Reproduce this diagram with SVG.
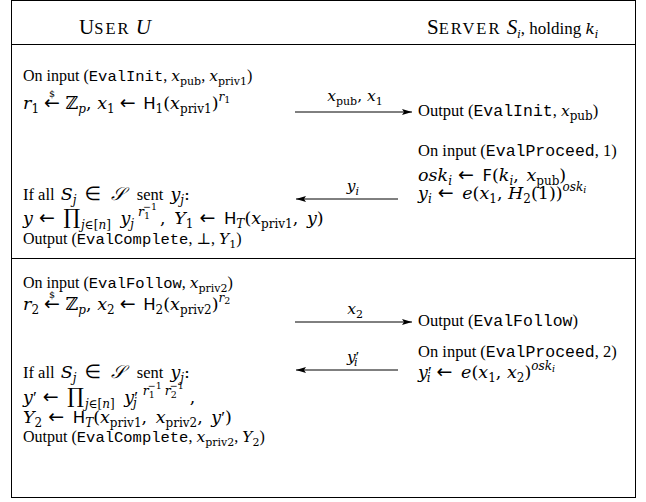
<svg xmlns="http://www.w3.org/2000/svg" width="646" height="502" viewBox="0 0 646 502">
<style>
text{font-family:"Liberation Serif","DejaVu Serif",serif;font-size:16px;fill:#000}
.R{font-size:16.5px}
.M{font-family:"DejaVu Serif",serif;font-size:17.5px}
.N{font-family:"DejaVu Serif",serif;font-size:15.5px}
.t{font-family:"Liberation Serif",serif;font-size:16.5px;font-style:normal}
.i{font-style:italic}
.m{font-family:"Liberation Mono","DejaVu Sans Mono",monospace;font-size:15.5px}
.mr{font-family:"Liberation Mono","DejaVu Sans Mono",monospace;font-size:16.5px}
.sf{font-family:"DejaVu Sans",sans-serif;font-size:16.5px}
.op{font-family:"DejaVu Sans",sans-serif;font-size:19px}
.pr{font-family:"DejaVu Serif",serif;font-size:21px}
.pm{font-family:"Liberation Serif",serif}
.s{font-size:12px}
.sn{font-size:11px}
.ss{font-size:9.5px}
.sp{font-size:12.5px;font-style:italic}
.sq{font-size:9.5px}
.h{font-size:21px}
.hs{font-size:16.5px;letter-spacing:2px}
.frame{fill:none;stroke:#000;stroke-width:1}
.conn line{stroke:#000;stroke-width:1}
</style>
<defs>
<marker id="ah" viewBox="0 0 10 6" refX="10" refY="3" markerWidth="10" markerHeight="6" markerUnits="userSpaceOnUse" orient="auto">
<path d="M0,0 L10,3 L0,6 L2,3 Z" fill="#000"/>
</marker>
</defs>
<rect id="frame" class="frame" x="11.5" y="0.5" width="624" height="497"/>
<line class="frame" x1="11" y1="44.5" x2="636" y2="44.5"/>
<line class="frame" x1="11" y1="258.5" x2="636" y2="258.5"/>

<g id="header-user">
<text x="115" y="34" text-anchor="middle" class="h">U<tspan class="hs">SER</tspan> <tspan class="i">U</tspan></text>
</g>
<g id="header-server">
<text x="427" y="34" class="h">S<tspan class="hs">ERVER</tspan> <tspan class="i">S</tspan><tspan class="N i sn" dy="4">i</tspan><tspan font-size="17" dy="-4">, holding </tspan><tspan class="N i" font-size="17">k</tspan><tspan class="N i sn" dy="4">i</tspan></text>
</g>

<g id="user-phase1">
<text x="23" y="81">On input (<tspan class="m">EvalInit</tspan>, <tspan class="N i">x</tspan><tspan class="N sn" dy="4">pub</tspan><tspan dy="-4">, </tspan><tspan class="N i">x</tspan><tspan class="N sn" dy="4">priv1</tspan><tspan dy="-4">)</tspan></text>
<text x="23" y="109" class="M"><tspan class="i">r</tspan><tspan class="s" dy="4">1</tspan><tspan class="op" dx="5" dy="-4">←</tspan><tspan class="ss" dx="-11" dy="-12">$</tspan><tspan dx="5" dy="12"> </tspan>ℤ<tspan class="i s" dy="4">p</tspan><tspan dy="-4">, </tspan><tspan class="i">x</tspan><tspan class="s" dy="4">1</tspan><tspan class="op" dx="5" dy="-4">←</tspan><tspan dx="2"> </tspan><tspan class="sf">H</tspan><tspan class="s" dy="4">1</tspan><tspan dy="-4">(</tspan><tspan class="i">x</tspan><tspan class="s" dy="4">priv1</tspan><tspan dy="-4">)</tspan><tspan class="i s" dy="-8">r</tspan><tspan class="ss" dy="2">1</tspan></text>
<text x="23" y="200" class="M"><tspan class="t">If all </tspan><tspan class="i" dx="2">S</tspan><tspan class="i s" dy="4">j</tspan><tspan class="op" dx="8" dy="-4">∈</tspan><tspan dx="4"> </tspan><tspan class="i" font-size="18">𝒮</tspan><tspan class="t" dx="8"> sent </tspan><tspan class="i" dx="3">y</tspan><tspan class="i s" dy="4">j</tspan><tspan dy="-4">:</tspan></text>
<text x="23" y="224" class="M"><tspan class="i">y</tspan><tspan class="op" dx="6">←</tspan><tspan dx="3"> </tspan><tspan class="pr">∏</tspan><tspan class="s" dy="5" dx="1"><tspan class="i">j</tspan>∈[<tspan class="i">n</tspan>]</tspan><tspan dy="-5" dx="4"> </tspan><tspan class="i">y</tspan><tspan class="i s" dy="4">j</tspan><tspan class="sp" dx="4" dy="-12">r</tspan><tspan class="sq" dy="3">1</tspan><tspan class="sq" dx="-7" dy="-9">−1</tspan><tspan dx="3" dy="14">, </tspan><tspan class="i" dx="3">Y</tspan><tspan class="s" dy="4">1</tspan><tspan class="op" dx="6" dy="-4">←</tspan><tspan dx="3"> </tspan><tspan class="sf">H</tspan><tspan class="i s" dy="4">T</tspan><tspan dy="-4">(</tspan><tspan class="i">x</tspan><tspan class="s" dy="4">priv1</tspan><tspan dy="-4">, </tspan><tspan class="i" dx="3">y</tspan>)</text>
<text x="23" y="244">Output (<tspan class="m">EvalComplete</tspan>, <tspan class="N">⊥</tspan>, <tspan class="N i">Y</tspan><tspan class="N sn" dy="4">1</tspan><tspan dy="-4">)</tspan></text>
</g>

<g id="server-phase1">
<text x="418" y="116" class="R">Output (<tspan class="mr">EvalInit</tspan>, <tspan class="N i" font-size="16.5">x</tspan><tspan class="N s" dy="4">pub</tspan><tspan dy="-4">)</tspan></text>
<text x="418" y="156" class="R">On input (<tspan class="mr">EvalProceed</tspan>, 1)</text>
<text x="418" y="181" class="M"><tspan class="i">osk</tspan><tspan class="i s" dy="4">i</tspan><tspan class="op" dx="6" dy="-4">←</tspan><tspan dx="3"> </tspan><tspan class="sf">F</tspan>(<tspan class="i">k</tspan><tspan class="i s" dy="4">i</tspan><tspan dy="-4">, </tspan><tspan class="i" dx="2">x</tspan><tspan class="s" dy="4">pub</tspan><tspan dy="-4">)</tspan></text>
<text x="418" y="199" class="M"><tspan class="i">y</tspan><tspan class="i s" dy="4">i</tspan><tspan class="op" dx="6" dy="-4">←</tspan><tspan dx="3"> </tspan><tspan class="i">e</tspan>(<tspan class="i">x</tspan><tspan class="s" dy="4">1</tspan><tspan dy="-4">, </tspan><tspan class="i">H</tspan><tspan class="s" dy="4">2</tspan><tspan dy="-4">(1))</tspan><tspan class="i s" dy="-8">osk</tspan><tspan class="i ss" dy="2">i</tspan></text>
</g>

<g id="user-phase2">
<text x="23" y="288">On input (<tspan class="m">EvalFollow</tspan>, <tspan class="N i">x</tspan><tspan class="N sn" dy="4">priv2</tspan><tspan dy="-4">)</tspan></text>
<text x="23" y="310" class="M"><tspan class="i">r</tspan><tspan class="s" dy="4">2</tspan><tspan class="op" dx="5" dy="-4">←</tspan><tspan class="ss" dx="-11" dy="-12">$</tspan><tspan dx="5" dy="12"> </tspan>ℤ<tspan class="i s" dy="4">p</tspan><tspan dy="-4">, </tspan><tspan class="i">x</tspan><tspan class="s" dy="4">2</tspan><tspan class="op" dx="5" dy="-4">←</tspan><tspan dx="2"> </tspan><tspan class="sf">H</tspan><tspan class="s" dy="4">2</tspan><tspan dy="-4">(</tspan><tspan class="i">x</tspan><tspan class="s" dy="4">priv2</tspan><tspan dy="-4">)</tspan><tspan class="i s" dy="-8">r</tspan><tspan class="ss" dy="2">2</tspan></text>
<text x="23" y="378" class="M"><tspan class="t">If all </tspan><tspan class="i" dx="2">S</tspan><tspan class="i s" dy="4">j</tspan><tspan class="op" dx="8" dy="-4">∈</tspan><tspan dx="4"> </tspan><tspan class="i" font-size="18">𝒮</tspan><tspan class="t" dx="8"> sent </tspan><tspan class="i" dx="3">y</tspan><tspan class="i s" dy="4">j</tspan><tspan dy="-4">:</tspan></text>
<text x="23" y="403" class="M"><tspan class="i">y</tspan><tspan class="pm">′</tspan><tspan class="op" dx="6">←</tspan><tspan dx="3"> </tspan><tspan class="pr">∏</tspan><tspan class="s" dy="5" dx="1"><tspan class="i">j</tspan>∈[<tspan class="i">n</tspan>]</tspan><tspan dy="-5" dx="4"> </tspan><tspan class="i">y</tspan><tspan class="pm">′</tspan><tspan class="i s" dx="-5" dy="4">j</tspan><tspan class="sp" dx="6" dy="-12">r</tspan><tspan class="sq" dy="3">1</tspan><tspan class="sq" dx="-7" dy="-9">−1</tspan><tspan class="sp" dx="3" dy="6">r</tspan><tspan class="sq" dy="3">2</tspan><tspan class="sq" dx="-7" dy="-9">−1</tspan><tspan dx="6" dy="14">,</tspan></text>
<text x="23" y="423" class="M"><tspan class="i">Y</tspan><tspan class="s" dy="4">2</tspan><tspan class="op" dx="6" dy="-4">←</tspan><tspan dx="3"> </tspan><tspan class="sf">H</tspan><tspan class="i s" dy="4">T</tspan><tspan dy="-4">(</tspan><tspan class="i">x</tspan><tspan class="s" dy="4">priv1</tspan><tspan dy="-4">, </tspan><tspan class="i" dx="3">x</tspan><tspan class="s" dy="4">priv2</tspan><tspan dy="-4">, </tspan><tspan class="i" dx="3">y</tspan><tspan class="pm">′</tspan>)</text>
<text x="23" y="442">Output (<tspan class="m">EvalComplete</tspan>, <tspan class="N i">x</tspan><tspan class="N sn" dy="4">priv2</tspan><tspan dy="-4">, </tspan><tspan class="N i">Y</tspan><tspan class="N sn" dy="4">2</tspan><tspan dy="-4">)</tspan></text>
</g>

<g id="server-phase2">
<text x="418" y="326" class="R">Output (<tspan class="mr">EvalFollow</tspan>)</text>
<text x="418" y="357" class="R">On input (<tspan class="mr">EvalProceed</tspan>, 2)</text>
<text x="418" y="378" class="M"><tspan class="i">y</tspan><tspan class="pm">′</tspan><tspan class="i s" dx="-5" dy="4">i</tspan><tspan class="op" dx="6" dy="-4">←</tspan><tspan dx="3"> </tspan><tspan class="i">e</tspan>(<tspan class="i">x</tspan><tspan class="s" dy="4">1</tspan><tspan dy="-4">, </tspan><tspan class="i">x</tspan><tspan class="s" dy="4">2</tspan><tspan dy="-4">)</tspan><tspan class="i s" dy="-8">osk</tspan><tspan class="i ss" dy="2">i</tspan></text>
</g>

<g id="connectors" class="conn">
<line x1="295" y1="112" x2="412" y2="112" marker-end="url(#ah)"/>
<text x="355" y="101" text-anchor="middle" class="N"><tspan class="i">x</tspan><tspan class="sn" dy="4">pub</tspan><tspan dy="-4">, </tspan><tspan class="i">x</tspan><tspan class="sn" dy="4">1</tspan></text>
<line x1="398" y1="199" x2="296" y2="199" marker-end="url(#ah)"/>
<text x="353" y="191" text-anchor="middle" class="N"><tspan class="i">y</tspan><tspan class="i sn" dy="4">i</tspan></text>
<line x1="295" y1="322" x2="412" y2="322" marker-end="url(#ah)"/>
<text x="355" y="314" text-anchor="middle" class="N"><tspan class="i">x</tspan><tspan class="sn" dy="4">2</tspan></text>
<line x1="398" y1="370" x2="296" y2="370" marker-end="url(#ah)"/>
<text x="353" y="362" text-anchor="middle" class="N"><tspan class="i">y</tspan><tspan class="pm">′</tspan><tspan class="i sn" dx="-5" dy="4">i</tspan></text>
</g>
</svg>
